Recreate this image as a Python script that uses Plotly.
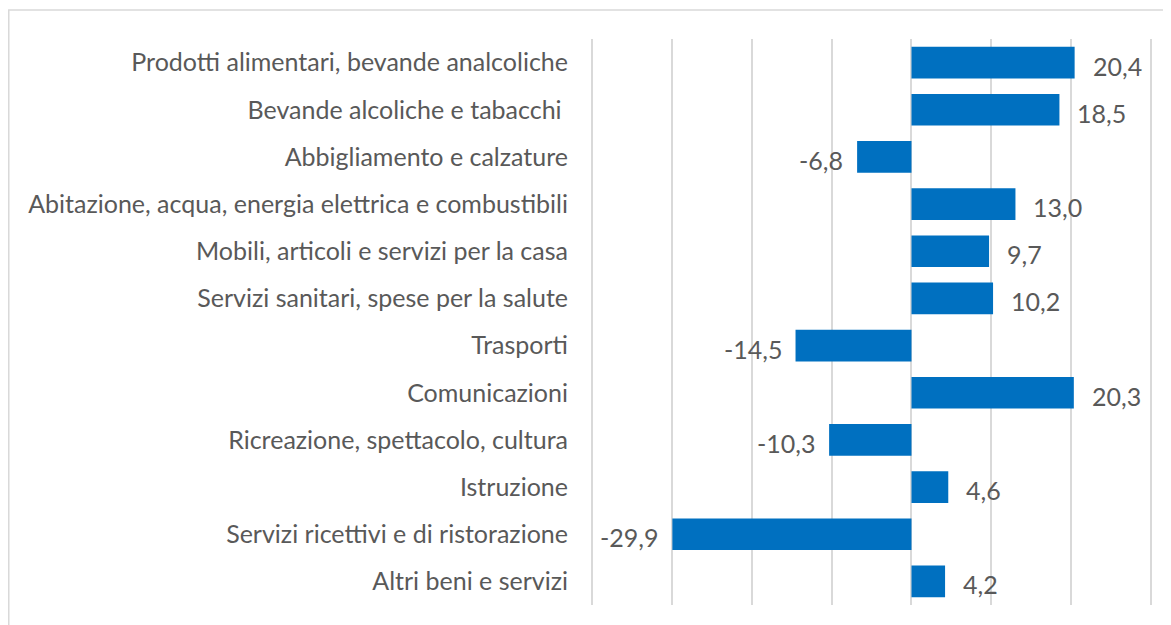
import plotly.graph_objects as go

categorie = [
    "Prodotti alimentari, bevande analcoliche",
    "Bevande alcoliche e tabacchi\u00a0",
    "Abbigliamento e calzature",
    "Abitazione, acqua, energia elettrica e combustibili",
    "Mobili, articoli e servizi per la casa",
    "Servizi sanitari, spese per la salute",
    "Trasporti",
    "Comunicazioni",
    "Ricreazione, spettacolo, cultura",
    "Istruzione",
    "Servizi ricettivi e di ristorazione",
    "Altri beni e servizi",
]
valori = [20.4, 18.5, -6.8, 13.0, 9.7, 10.2, -14.5, 20.3, -10.3, 4.6, -29.9, 4.2]

# la pagina html ha un margine di 8px intorno alla figura
W, H = 1171, 625
L, R, T, B = 582.4, 26.4, 31, 28
font_fam = "Lato, 'Open Sans', sans-serif"
grigio = "#595959"
fs = 25

fig = go.Figure()
fig.add_trace(go.Bar(
    x=valori, y=categorie, orientation="h",
    marker=dict(color="#0070C0", line=dict(width=0)),
    hoverinfo="x+y",
))

# etichette dati, fuori dalle barre
for c, v in zip(categorie, valori):
    fig.add_annotation(
        x=v, y=c, xref="x", yref="y",
        text=f"{v:.1f}".replace(".", ","),
        showarrow=False,
        xanchor="left" if v >= 0 else "right",
        xshift=16 if v >= 0 else -12,
        yshift=-3,
        font=dict(family=font_fam, size=fs, color=grigio),
    )

# cornice del grafico
pw, ph = W - L - R, H - T - B
fig.add_shape(
    type="rect", xref="paper", yref="paper",
    x0=(2 - L) / pw, x1=(W + 5 - L) / pw,
    y0=(H - B - (H + 5)) / ph, y1=(H - B - 2) / ph,
    line=dict(color="#D9D9D9", width=1.5), fillcolor="rgba(0,0,0,0)",
    layer="below",
)

fig.update_layout(
    width=W, height=H,
    margin=dict(l=L, r=R, t=T, b=B),
    paper_bgcolor="white", plot_bgcolor="white",
    bargap=0.33,
    showlegend=False,
    font=dict(family=font_fam, size=fs, color=grigio),
)
# range un po' allargato perché plotly non disegna la griglia sui bordi
fig.update_xaxes(
    range=[-40.2, 30.2], dtick=10, tick0=0,
    showgrid=True, gridcolor="#D9D9D9", gridwidth=1.5,
    zeroline=True, zerolinecolor="#D9D9D9", zerolinewidth=1.5,
    showticklabels=False, showline=False, fixedrange=True,
)
fig.update_yaxes(
    autorange="reversed", showgrid=False, showline=False,
    ticks="", ticklabelstandoff=21,
    tickfont=dict(family=font_fam, size=fs, color=grigio),
)

fig.write_html("out.html")
